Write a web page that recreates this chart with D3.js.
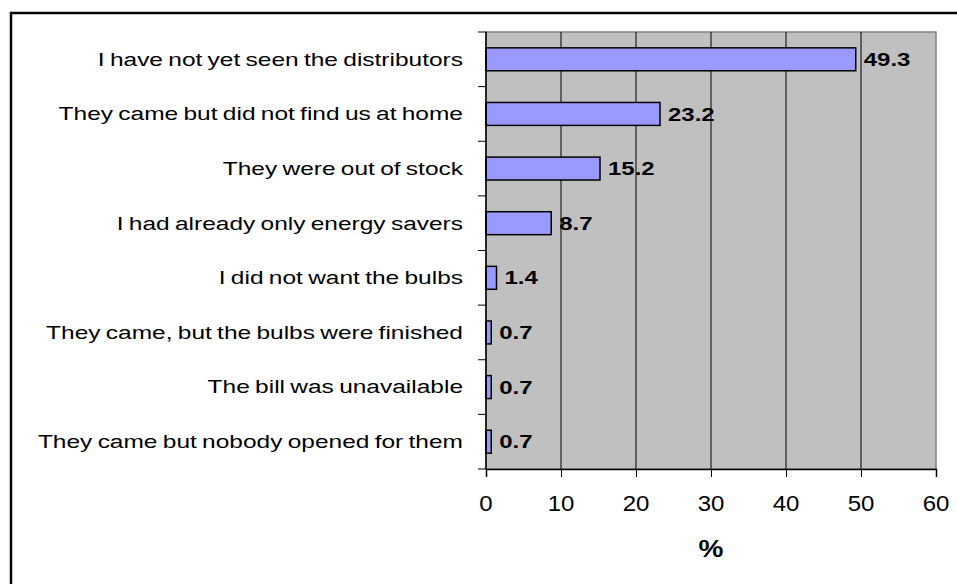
<!DOCTYPE html>
<html>
<head>
<meta charset="utf-8">
<script src="https://cdn.jsdelivr.net/npm/d3@7"></script>
<style>
  html, body { margin: 0; padding: 0; background: #fff; }
  svg { display: block; }
  text { font-family: "Liberation Sans", Arial, sans-serif; }
</style>
</head>
<body>
<svg id="chart" width="957" height="584"></svg>
<script>
// Reasons given for not receiving the energy-saving bulbs (% of respondents)
const categories = [
  "I have not yet seen the distributors",
  "They came but did not find us at home",
  "They were out of stock",
  "I had already only energy savers",
  "I did not want the bulbs",
  "They came, but the bulbs were finished",
  "The bill was unavailable",
  "They came but nobody opened for them"
];
const values = [49.3, 23.2, 15.2, 8.7, 1.4, 0.7, 0.7, 0.7];
const xTicks = [0, 10, 20, 30, 40, 50, 60];
const xTitle = "%";

const svg = d3.select("#chart");
const plot = { left: 486, top: 32, right: 936, bottom: 469 };

// text is drawn wide and flattened vertically (sy), as in the exported chart
function place(sel, xf, yf, sy) {
  return sel.attr("transform", (d, i) => `translate(${xf(d, i)},${yf(d, i)}) scale(1,${sy})`);
}

// outer frame of the chart object
svg.append("rect")
  .attr("x", 11).attr("y", 13)
  .attr("width", 1200).attr("height", 1200)
  .attr("fill", "none").attr("stroke", "#000").attr("stroke-width", 2.5);

const x = d3.scaleLinear().domain([0, 60]).range([plot.left, plot.right]);
const y = d3.scaleBand().domain(categories).range([plot.top, plot.bottom]).paddingInner(0.58).paddingOuter(0.29);
const band = d3.scaleBand().domain(categories).range([plot.top, plot.bottom]);

// plot background
svg.append("rect")
  .attr("x", plot.left).attr("y", plot.top)
  .attr("width", plot.right - plot.left).attr("height", plot.bottom - plot.top)
  .attr("fill", "#c0c0c0").attr("stroke", "#808080").attr("stroke-width", 1.5);

// vertical gridlines
svg.append("g").selectAll("line")
  .data(xTicks.filter(t => t > 0 && t < 60))
  .join("line")
  .attr("x1", d => x(d)).attr("x2", d => x(d))
  .attr("y1", plot.top).attr("y2", plot.bottom)
  .attr("stroke", "#000").attr("stroke-width", 1);

// bars
svg.append("g").selectAll("rect")
  .data(values)
  .join("rect")
  .attr("x", x(0))
  .attr("y", (d, i) => y(categories[i]))
  .attr("width", d => x(d) - x(0))
  .attr("height", y.bandwidth())
  .attr("fill", "#9999ff").attr("stroke", "#000").attr("stroke-width", 1.5);

// value labels
place(svg.append("g").selectAll("text")
  .data(values)
  .join("text")
  .attr("dy", "0.36em")
  .attr("font-size", 24).attr("font-weight", "bold").attr("fill", "#000")
  .text(d => d.toFixed(1)),
  d => x(d) + 8,
  (d, i) => y(categories[i]) + y.bandwidth() / 2,
  0.77);

// y axis with category ticks
const yAxis = svg.append("g").attr("transform", `translate(${plot.left},0)`);
yAxis.append("line")
  .attr("x1", 0).attr("x2", 0).attr("y1", plot.top).attr("y2", plot.bottom)
  .attr("stroke", "#000").attr("stroke-width", 1.5);
yAxis.selectAll("line.tick")
  .data(categories.map(c => band(c)).concat([plot.bottom]))
  .join("line").attr("class", "tick")
  .attr("x1", -8).attr("x2", 0)
  .attr("y1", d => d).attr("y2", d => d)
  .attr("stroke", "#000").attr("stroke-width", 1);
place(yAxis.selectAll("text")
  .data(categories)
  .join("text")
  .attr("dy", "0.36em")
  .attr("text-anchor", "end")
  .attr("font-size", 24.5).attr("word-spacing", -1.5).attr("fill", "#000")
  .text(d => d),
  () => -23,
  d => band(d) + band.bandwidth() / 2,
  0.72);

// x axis line and ticks
const xAxis = svg.append("g").attr("transform", `translate(0,${plot.bottom})`)
  .call(d3.axisBottom(x).tickValues(xTicks).tickSize(8).tickFormat(""));
xAxis.select(".domain").attr("stroke", "#000").attr("stroke-width", 1.5);
xAxis.selectAll(".tick line").attr("stroke", "#000");

// x tick labels
place(svg.append("g").selectAll("text")
  .data(xTicks)
  .join("text")
  .attr("dy", "0.36em")
  .attr("text-anchor", "middle")
  .attr("font-size", 24).attr("fill", "#000")
  .text(d => d3.format("d")(d)),
  d => x(d),
  () => 503.5,
  0.9);

// axis title
place(svg.append("g").selectAll("text")
  .data([xTitle])
  .join("text")
  .attr("dy", "0.36em")
  .attr("text-anchor", "middle")
  .attr("font-size", 28).attr("font-weight", "bold")
  .text(d => d),
  () => (plot.left + plot.right) / 2,
  () => 548,
  0.85);
</script>
</body>
</html>
